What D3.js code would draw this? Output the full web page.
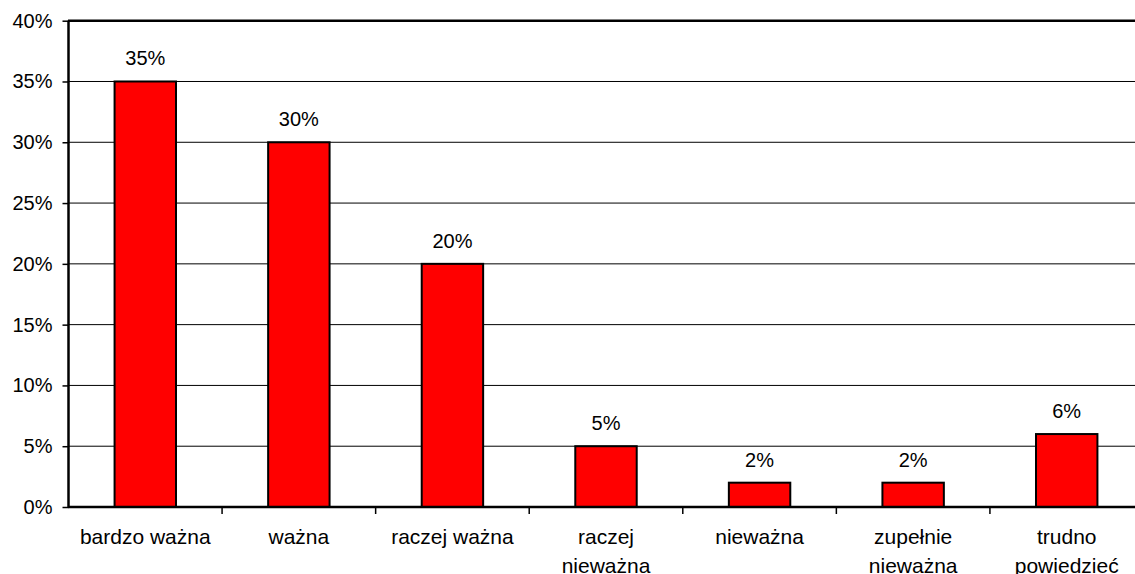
<!DOCTYPE html>
<html><head><meta charset="utf-8">
<script src="https://cdn.jsdelivr.net/npm/d3@7"></script>
<style>body{margin:0;background:#fff}svg{display:block}text{font-family:"Liberation Sans",Arial,sans-serif;fill:#000}</style>
</head><body><svg id="c" width="1135" height="574"></svg>
<script>
const categories = [["bardzo ważna"],["ważna"],["raczej ważna"],["raczej","nieważna"],["nieważna"],["zupełnie","nieważna"],["trudno","powiedzieć"]];
const values = [35,30,20,5,2,2,6];
const yTicks = [0,5,10,15,20,25,30,35,40];

const FS = 20;
const svg = d3.select("#c");
const xb = d3.scaleBand().domain(d3.range(categories.length)).range([68.5,1143.5]);
const y = d3.scaleLinear().domain([0,40]).range([507,20.7]);

// grid
svg.append("g").selectAll("line").data(yTicks.slice(1,-1)).join("line")
  .attr("x1",68.5).attr("x2",1135).attr("y1",d=>y(d)).attr("y2",d=>y(d))
  .attr("stroke","#000").attr("stroke-width",1);
// top border
svg.append("line").attr("x1",68).attr("x2",1135).attr("y1",y(40)).attr("y2",y(40)).attr("stroke","#000").attr("stroke-width",2.5);

// bars
svg.append("g").selectAll("rect").data(values).join("rect")
  .attr("x",(d,i)=>xb(i)+xb.bandwidth()*0.3).attr("width",xb.bandwidth()*0.4)
  .attr("y",d=>y(d)).attr("height",d=>y(0)-y(d))
  .attr("fill","#ff0000").attr("stroke","#000").attr("stroke-width",2);

// value labels
svg.append("g").selectAll("text").data(values).join("text")
  .attr("x",(d,i)=>xb(i)+xb.bandwidth()/2).attr("y",d=>y(d)-16)
  .attr("text-anchor","middle").attr("font-size",FS).text(d=>d+"%");

// y axis
const ya = d3.axisLeft(y).tickValues(yTicks).tickFormat(d=>d+"%").tickSize(6).tickPadding(10);
const gy = svg.append("g").attr("transform","translate(68.5,0)").call(ya);
gy.select(".domain").attr("stroke-width",2.5).attr("d",`M0,${y(0)}V${y(40)}`);
gy.selectAll(".tick line").attr("stroke-width",1.5);
gy.selectAll("text").attr("font-size",FS).attr("font-family","Liberation Sans, Arial, sans-serif");

// x axis
const gx = svg.append("g").attr("transform",`translate(0,${y(0)})`);
gx.append("line").attr("x1",68).attr("x2",1135).attr("stroke","#000").attr("stroke-width",2.5);
gx.selectAll("line.t").data(d3.range(1,categories.length)).join("line").attr("class","t")
  .attr("x1",d=>xb(d)).attr("x2",d=>xb(d)).attr("y1",0).attr("y2",7).attr("stroke","#000").attr("stroke-width",1.5);
gx.selectAll("text").data(categories).join("text")
  .attr("text-anchor","middle").attr("font-size",21)
  .attr("transform",(d,i)=>`translate(${xb(i)+xb.bandwidth()/2},0)`)
  .selectAll("tspan").data(d=>d).join("tspan").attr("x",0).attr("y",(d,j)=>37+j*29).text(d=>d);
</script></body></html>
